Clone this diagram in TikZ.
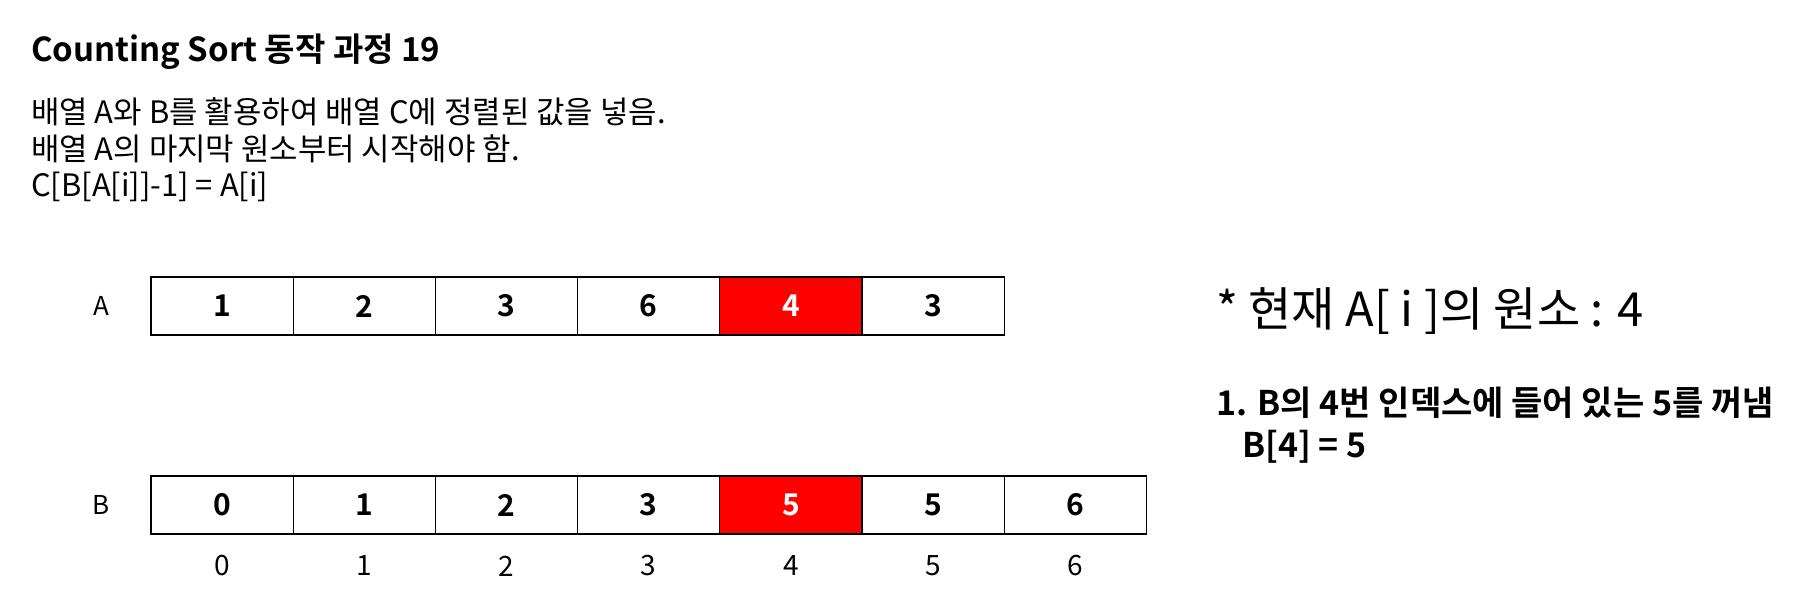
\documentclass[tikz,border=0pt]{standalone}
\usepackage{fontspec}
\setmainfont{Noto Sans CJK KR}[BoldFont={Noto Sans CJK KR Bold}]
\usetikzlibrary{positioning}

\begin{document}
\begin{tikzpicture}[
    x=1pt, y=-1pt,
    cell/.style={draw=black, line width=1.3pt, fill=white, minimum width=142.2pt, minimum height=58pt, inner sep=0pt, font=\fontsize{30}{36}\selectfont\bfseries},
    hotcell/.style={cell, fill=red, text=white},
    idx/.style={font=\fontsize{28}{34}\selectfont, inner sep=0pt},
    rowlabel/.style={font=\fontsize{26}{31}\selectfont, inner sep=0pt}
]
\useasboundingbox (0,0) rectangle (1807,613);

\node[anchor=west, inner sep=0pt, font=\fontsize{33}{39}\selectfont\bfseries] (title) at (31,52) {Counting Sort 동작 과정 19};
\node[anchor=west, inner sep=0pt, align=left, font=\fontsize{30.9}{36.5}\selectfont] (desc) at (31,150) {배열 A와 B를 활용하여 배열 C에 정렬된 값을 넣음.\\배열 A의 마지막 원소부터 시작해야 함.\\C[B[A[i]]-1] = A[i]};

% array A
\node[rowlabel] (labA) at (101,306) {A};
\node[cell] (a0) at (222.1,306) {1};
\node[cell] (a1) at (364.3,306) {2};
\node[cell] (a2) at (506.5,306) {3};
\node[cell] (a3) at (648.7,306) {6};
\node[hotcell] (a4) at (790.9,306) {4};
\node[cell] (a5) at (933.1,306) {3};

% array B
\node[rowlabel] (labB) at (101,505) {B};
\node[cell] (b0) at (222.1,505) {0};
\node[cell] (b1) at (364.3,505) {1};
\node[cell] (b2) at (506.5,505) {2};
\node[cell] (b3) at (648.7,505) {3};
\node[hotcell] (b4) at (790.9,505) {5};
\node[cell] (b5) at (933.1,505) {5};
\node[cell] (b6) at (1075.3,505) {6};

% indices of B
\node[idx] (i0) at (222.1,566) {0};
\node[idx] (i1) at (364.3,566) {1};
\node[idx] (i2) at (506.5,566) {2};
\node[idx] (i3) at (648.7,566) {3};
\node[idx] (i4) at (790.9,566) {4};
\node[idx] (i5) at (933.1,566) {5};
\node[idx] (i6) at (1075.3,566) {6};

% notes
\node[anchor=west, inner sep=0pt, font=\fontsize{47}{56}\selectfont] (cur) at (1216,311) {* 현재 A[ i ]의 원소 : 4};
\node[anchor=west, inner sep=0pt, align=left, font=\fontsize{34}{42}\selectfont\bfseries] (step) at (1216,425) {1. B의 4번 인덱스에 들어 있는 5를 꺼냄\\\hspace*{26pt}B[4] = 5};

\end{tikzpicture}
\end{document}
